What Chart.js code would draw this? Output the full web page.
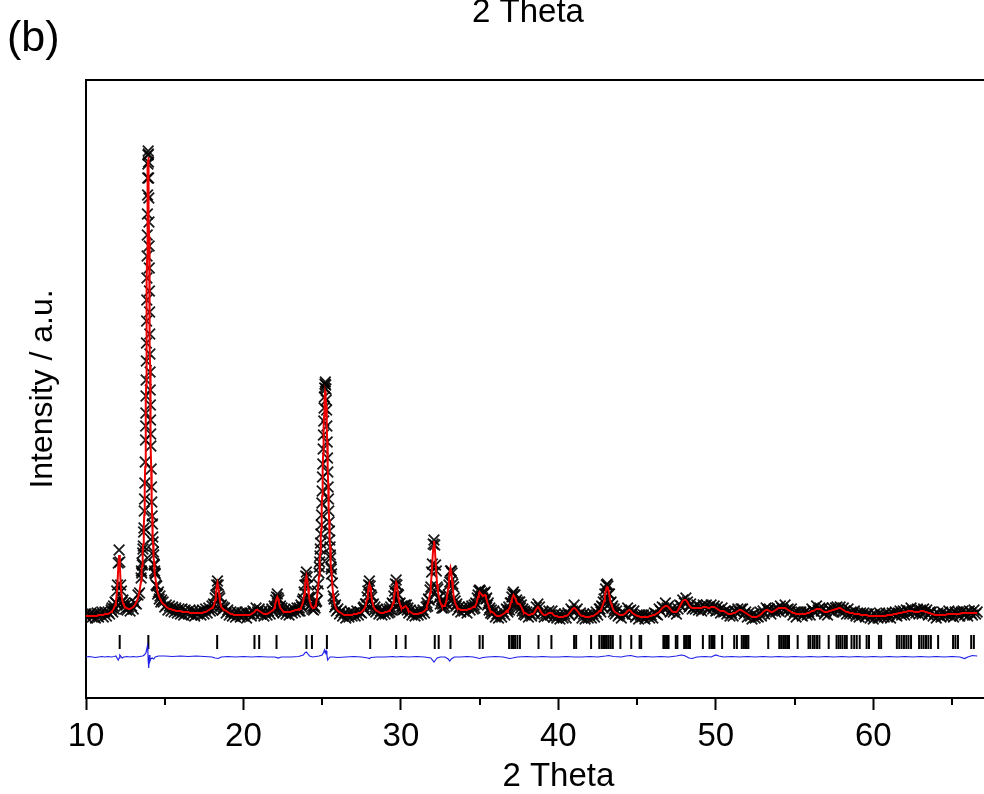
<!DOCTYPE html>
<html><head><meta charset="utf-8">
<script src="https://cdn.jsdelivr.net/npm/chart.js@4/dist/chart.umd.min.js"></script>
<style>html,body{margin:0;padding:0;overflow:hidden;background:#fff}#wrap{width:1040px;height:794px}</style>
</head><body><div id="wrap"><canvas id="c" width="1040" height="794"></canvas></div>
<script>
// 2-theta positions of the observed/calculated profile
const THETA = [
10,10.1,10.2,10.3,10.4,10.5,10.6,10.7,10.8,10.9,11,11.1,11.2,11.3,11.4,11.5,11.6,
11.65,11.7,11.75,11.8,11.85,11.9,11.95,12,12.05,12.1,12.15,12.2,12.25,12.3,12.35,12.4,12.45,12.5,12.55,12.6,
12.7,12.8,12.9,13,13.1,13.2,13.3,13.4,13.5,
13.52,13.54,13.56,13.58,13.6,13.62,13.64,13.66,13.68,13.7,13.72,13.74,13.76,13.78,
13.79,13.8,13.81,13.82,13.83,13.84,13.85,13.86,13.87,13.88,13.89,13.9,13.91,13.92,13.93,13.94,13.95,13.96,13.97,13.98,13.99,14,14.01,14.02,14.03,14.04,14.05,14.06,14.07,14.08,14.09,14.1,14.11,14.12,
14.14,14.16,14.18,14.2,14.22,14.24,14.26,14.28,14.3,14.32,14.34,14.36,14.38,
14.4,14.45,14.5,14.55,14.6,14.65,14.7,14.75,14.8,
14.9,15,15.1,15.2,15.3,15.4,15.5,15.6,15.7,15.8,15.9,16,16.1,16.2,16.3,16.4,16.5,16.6,16.7,16.8,16.9,17,17.1,17.2,17.3,17.4,17.5,17.6,17.7,17.8,17.9,
18,18.05,18.1,18.15,18.2,18.25,18.3,18.35,18.4,18.45,18.5,18.55,18.6,18.65,18.7,
18.8,18.9,19,19.1,19.2,19.3,19.4,19.5,19.6,19.7,19.8,19.9,20,20.1,20.2,20.3,20.4,20.5,20.6,20.7,20.8,20.9,21,21.1,21.2,21.3,21.4,21.5,21.6,21.7,21.8,21.9,
21.95,22,22.05,22.1,22.15,22.2,22.25,22.3,22.35,22.4,22.45,22.5,
22.6,22.7,22.8,22.9,23,23.1,23.2,23.3,23.4,23.5,
23.55,23.6,23.65,23.7,23.75,23.8,23.85,23.9,23.95,24,24.05,24.1,24.15,24.2,24.25,24.3,24.35,24.4,24.45,24.5,24.55,24.6,24.65,24.7,24.75,24.8,
24.82,24.84,24.86,24.88,24.9,24.92,24.94,24.96,24.98,25,25.02,25.04,25.06,25.08,25.1,25.12,25.14,25.16,25.18,25.2,25.22,25.24,25.26,25.28,25.3,25.32,25.34,25.36,25.38,25.4,25.42,25.44,25.46,25.48,25.5,25.52,25.54,25.56,25.58,25.6,
25.65,25.7,25.75,25.8,25.85,25.9,
26,26.1,26.2,26.3,26.4,26.5,26.6,26.7,26.8,26.9,27,27.1,27.2,27.3,27.4,27.5,27.6,
27.65,27.7,27.75,27.8,27.85,27.9,27.95,28,28.05,28.1,28.15,28.2,28.25,28.3,28.35,28.4,
28.5,28.6,28.7,28.8,28.9,29,29.1,29.2,
29.25,29.3,29.35,29.4,29.45,29.5,29.55,29.6,29.65,29.7,29.75,29.8,29.85,29.9,29.95,30,30.05,30.1,30.15,30.2,30.25,30.3,30.35,30.4,30.45,30.5,
30.6,30.7,30.8,30.9,31,31.1,31.2,31.3,31.4,31.5,31.6,
31.65,31.7,31.75,31.8,31.85,31.9,31.95,32,32.05,32.1,32.15,32.2,32.25,32.3,32.35,32.4,32.45,32.5,32.55,32.6,32.65,32.7,32.75,32.8,32.85,32.9,32.95,33,33.05,33.1,33.15,33.2,33.25,33.3,33.35,33.4,33.45,33.5,33.55,33.6,
33.7,33.8,33.9,34,34.1,34.2,34.3,34.4,34.5,34.6,
34.65,34.7,34.75,34.8,34.85,34.9,34.95,35,35.05,35.1,35.15,35.2,35.25,35.3,35.35,35.4,35.45,35.5,35.55,35.6,35.65,35.7,35.75,35.8,
35.9,36,36.1,36.2,36.3,36.4,36.5,36.6,36.7,
36.75,36.8,36.85,36.9,36.95,37,37.05,37.1,37.15,37.2,37.25,37.3,37.35,37.4,37.45,37.5,37.55,37.6,37.65,37.7,37.75,37.8,37.85,37.9,
38,38.1,38.2,38.3,38.4,38.5,38.6,38.7,38.8,38.9,39,39.1,39.2,39.3,39.4,39.5,39.6,39.7,39.8,39.9,40,40.1,40.2,40.3,40.4,40.5,40.6,40.7,40.8,40.9,41,41.1,41.2,41.3,41.4,41.5,41.6,41.7,41.8,41.9,42,42.1,42.2,42.3,42.4,42.5,42.6,
42.65,42.7,42.75,42.8,42.85,42.9,42.95,43,43.05,43.1,43.15,43.2,43.25,43.3,43.35,43.4,43.45,43.5,43.55,43.6,
43.7,43.8,43.9,44,44.1,44.2,44.3,44.4,44.5,44.6,
44.7,44.8,44.9,45,45.1,45.2,45.3,45.4,45.5,45.6,
45.7,45.8,45.9,46,46.1,46.2,46.3,46.4,46.5,46.6,
46.7,46.8,46.9,47,47.1,47.2,47.3,47.4,47.5,47.6,
47.7,47.8,47.9,48,48.1,48.2,48.3,48.4,48.5,48.6,
48.7,48.8,48.9,49,49.1,49.2,49.3,49.4,49.5,49.6,
49.7,49.8,49.9,50,50.1,50.2,50.3,50.4,50.5,50.6,
50.7,50.8,50.9,51,51.1,51.2,51.3,51.4,51.5,51.6,
51.7,51.8,51.9,52,52.1,52.2,52.3,52.4,52.5,52.6,
52.7,52.8,52.9,53,53.1,53.2,53.3,53.4,53.5,53.6,
53.7,53.8,53.9,54,54.1,54.2,54.3,54.4,54.5,54.6,
54.7,54.8,54.9,55,55.1,55.2,55.3,55.4,55.5,55.6,
55.7,55.8,55.9,56,56.1,56.2,56.3,56.4,56.5,56.6,
56.7,56.8,56.9,57,57.1,57.2,57.3,57.4,57.5,57.6,
57.7,57.8,57.9,58,58.1,58.2,58.3,58.4,58.5,58.6,
58.7,58.8,58.9,59,59.1,59.2,59.3,59.4,59.5,59.6,
59.7,59.8,59.9,60,60.1,60.2,60.3,60.4,60.5,60.6,
60.7,60.8,60.9,61,61.1,61.2,61.3,61.4,61.5,61.6,
61.7,61.8,61.9,62,62.1,62.2,62.3,62.4,62.5,62.6,
62.7,62.8,62.9,63,63.1,63.2,63.3,63.4,63.5,63.6,
63.7,63.8,63.9,64,64.1,64.2,64.3,64.4,64.5,64.6,
64.7,64.8,64.9,65,65.1,65.2,65.3,65.4,65.5,65.6,
65.7,65.8,65.9,66,66.1,66.2,66.3,66.4,66.5,66.6
];
// calculated profile (red line), a.u.
const CALC = [
82,82,82,82,82,82,82,82,83,83,83,83,84,84,84,85,86,
87,88,89,91,93,97,103,114,131,143,132,115,104,98,95,93,92,91,90,90,
89,89,90,91,93,96,100,107,117,
124,128,132,136,141,147,154,162,172,183,196,212,231,254,
267,281,297,313,332,351,372,394,416,439,461,482,502,518,530,538,541,538,530,518,502,482,461,439,416,394,372,351,332,313,297,281,267,254,
231,212,196,183,172,162,154,147,141,136,132,128,124,
121,115,110,106,103,101,99,98,96,
94,93,91,90,89,89,88,88,87,87,87,87,86,86,86,86,86,85,85,85,85,85,85,85,85,85,86,86,87,88,89,
90,90,92,94,98,104,111,115,111,104,98,94,91,90,89,
88,87,86,85,84,84,83,83,83,83,83,83,83,83,83,83,83,84,85,86,88,88,87,86,85,84,84,84,85,86,87,88,
90,92,96,99,101,99,96,92,90,89,88,87,
86,86,86,86,86,87,87,88,88,89,
88,89,90,92,94,97,103,110,118,122,118,110,103,98,95,92,91,90,90,90,92,94,98,104,112,122,
128,133,139,145,152,160,169,179,190,202,215,229,243,257,270,282,292,300,305,307,305,300,292,282,270,257,243,229,215,202,190,179,169,160,152,145,139,133,128,123,
112,103,97,93,91,89,
87,86,85,84,83,83,83,83,83,83,84,84,84,85,85,86,88,
89,90,92,95,99,105,111,114,111,105,99,95,92,90,89,88,
87,86,85,85,85,86,86,87,
87,88,89,90,92,95,99,105,111,115,112,106,100,96,93,91,90,90,90,91,91,92,91,90,88,87,
86,85,84,84,84,84,85,85,86,87,89,
93,94,97,100,105,113,123,136,150,157,151,137,124,114,107,102,99,96,94,92,92,92,92,93,95,98,104,110,118,126,130,126,117,109,102,98,95,93,91,90,
89,88,88,88,88,88,89,89,90,91,
91,92,93,95,98,101,104,106,105,104,103,102,102,103,103,101,98,95,93,90,88,87,86,86,
85,83,82,82,82,83,84,85,87,
86,88,89,90,93,96,99,101,103,102,100,98,96,95,94,94,94,92,91,89,87,86,85,85,
84,83,83,84,84,86,89,91,89,86,84,83,83,84,85,85,85,83,82,82,81,81,81,81,82,82,83,85,87,89,90,89,87,85,83,82,82,81,81,81,81,82,82,83,84,85,87,
87,88,90,92,94,97,102,106,110,111,110,106,102,97,94,92,90,88,87,86,
85,84,83,83,83,84,85,87,88,87,
85,84,83,82,82,81,81,81,81,81,
81,82,82,83,83,84,85,86,88,90,
91,92,92,91,89,87,86,86,86,88,
91,94,97,98,98,96,93,91,90,90,
90,90,90,90,90,91,91,91,90,90,
91,91,91,90,89,88,87,87,87,86,
85,84,84,84,85,85,86,87,88,88,
87,86,85,84,83,82,81,81,81,81,
82,83,84,86,87,88,88,87,86,86,
87,88,89,90,90,90,90,90,89,88,
87,86,85,85,84,84,84,84,84,84,
84,85,85,86,87,87,88,89,89,89,
88,87,86,86,86,87,87,88,88,89,
89,90,90,89,88,87,86,86,85,85,
85,84,84,84,84,83,83,83,83,83,
82,82,82,82,82,82,82,82,82,82,
82,82,83,83,83,83,84,84,84,85,
85,85,86,86,86,87,87,87,87,86,
86,86,86,87,87,87,86,86,85,85,
84,84,83,83,83,83,83,83,83,83,
84,84,84,84,84,84,84,84,84,85,
85,85,85,85,85,85,85,85,85,85
];
// observed intensities (black crosses), a.u.
const OBS = [
84,80,83,85,81,84,80,85,81,84,86,81,86,82,86,84,88,
90,86,92,89,96,95,107,113,135,148,136,113,107,96,98,92,95,89,93,88,
91,87,92,89,95,94,103,105,120,
127,125,135,133,145,149,152,166,170,187,199,215,236,258,
272,285,302,318,337,355,377,398,420,442,463,484,503,520,534,543,547,544,536,520,500,476,452,430,407,386,364,344,326,308,293,278,264,252,
229,211,196,182,174,161,156,146,143,134,133,127,125,
124,113,112,104,106,99,102,96,98,
96,91,93,88,92,87,91,86,90,85,89,84,89,83,88,86,84,88,83,87,82,86,84,87,83,88,84,89,85,90,87,
92,88,94,93,100,103,113,117,113,102,100,92,93,88,91,
90,85,88,83,86,82,85,81,86,84,81,85,82,86,80,84,85,82,87,84,90,86,89,84,87,82,86,83,87,84,89,86,
92,90,98,101,104,100,98,90,92,87,90,85,
88,84,87,83,88,85,89,86,90,87,
90,87,93,91,97,99,106,113,122,126,121,113,101,100,93,94,89,92,88,92,90,96,97,107,114,125,
131,136,142,149,155,164,173,183,195,207,221,234,249,263,277,290,301,310,314,316,313,309,298,288,272,256,240,226,211,199,187,176,167,158,151,143,140,131,129,124,
115,102,99,91,93,87,
89,84,87,82,85,80,84,81,86,82,85,82,87,83,86,85,90,
91,88,94,94,101,107,113,117,112,103,101,93,94,88,91,86,
89,84,87,83,87,84,88,85,
89,86,91,88,95,94,102,107,114,118,113,104,103,94,95,89,92,88,92,89,93,90,93,88,90,85,
88,83,86,82,86,83,87,84,88,85,91,
95,92,99,98,108,111,126,134,154,158,153,133,127,111,109,100,101,94,97,90,94,90,95,91,96,94,101,103,113,116,127,127,125,114,111,100,97,92,94,88,
91,86,90,87,90,85,91,88,92,89,
93,90,95,94,100,103,107,108,107,102,105,100,104,105,106,99,100,93,95,88,90,85,88,84,
87,81,84,80,84,81,86,83,89,
88,86,91,88,95,95,101,104,106,103,103,96,98,93,96,92,96,90,93,87,89,84,87,83,
86,81,85,82,86,84,91,94,91,84,86,81,85,82,87,83,87,81,84,80,83,79,83,80,84,80,85,83,89,87,93,87,89,83,85,80,84,79,83,80,83,80,84,81,86,83,89,
89,86,92,91,96,99,104,109,113,114,112,104,104,95,96,90,92,86,89,84,
87,82,84,80,85,84,83,90,87,88,
84,87,81,83,79,83,81,83,79,82,
83,80,83,80,85,84,83,89,87,91,
90,95,90,92,86,89,86,88,84,89,
93,92,98,95,100,96,91,94,89,91,
89,93,88,91,87,93,91,93,88,91,
93,89,92,87,91,88,85,90,86,87,
84,87,82,85,82,87,86,89,86,89,
89,84,86,81,85,82,79,84,80,82,
81,86,82,87,84,90,88,89,84,87,
89,86,90,87,92,90,88,93,88,89,
86,89,83,86,81,86,84,86,82,85,
86,83,86,83,89,87,86,92,88,90,
87,90,84,87,83,89,87,90,86,90,
91,88,91,86,90,87,84,89,84,86,
84,87,82,85,81,85,83,85,81,84,
84,80,83,79,84,82,80,85,81,83,
81,85,81,84,80,85,84,86,82,85,
87,83,87,83,88,87,85,90,86,87,
85,89,84,88,84,89,86,88,83,86,
86,82,84,80,85,83,81,86,82,84,
83,87,82,85,81,86,84,86,82,86,
87,83,86,82,87,85,83,88,84,86
];
// difference curve (obs - calc), a.u.
const DIFF_X = [
10,10.2,10.4,10.6,10.8,11,11.2,11.4,11.6,11.8,
11.9,12,12.05,12.1,12.15,12.2,12.3,12.4,12.6,12.8,
13,13.2,13.4,13.6,13.7,13.8,13.85,13.9,13.93,13.95,
13.97,14,14.03,14.06,14.1,14.2,14.3,14.4,14.6,14.8,
15,15.5,16,16.5,17,17.5,18,18.2,18.4,18.6,
19,19.5,20,20.5,21,21.5,22,22.2,22.4,23,
23.5,23.8,23.9,24,24.1,24.2,24.4,24.6,24.8,25,
25.1,25.15,25.2,25.25,25.3,25.35,25.4,25.5,25.7,26,
26.5,27,27.5,27.9,28,28.1,28.5,29,29.5,29.7,
30,30.5,31,31.5,31.9,32,32.1,32.2,32.3,32.5,
32.8,33,33.1,33.2,33.4,33.8,34.2,34.6,35,35.2,
35.5,36,36.5,36.9,37.1,37.4,38,38.5,39,39.5,
40,40.5,41,41.5,42,42.5,43,43.2,43.5,44,
44.3,44.6,45,45.5,46,46.5,47,47.5,47.8,48,
48.3,48.5,48.8,49.3,49.7,50,50.2,50.5,51,51.5,
52,52.5,53,53.5,54,54.5,55,55.5,56,56.5,
57,57.5,58,58.5,59,59.5,60,60.5,61,61.5,
62,62.5,63,63.5,64,64.5,65,65.5,65.8,66,
66.3,66.6
];
const DIFF = [
0,.5,0,-.5,0,.5,0,.5,0,.5,
1,-2,-3,-1,2,1,-1,0,.5,0,
.5,0,.5,1,2,4,7,11,6,-3,
-11,-8,2,-4,-2,-1,-2,0,1,1,
1,.5,1,.5,1,.5,0,-1,-1.5,0,
.5,0,.5,0,.5,0,0,-1,0,0,
.5,2,4,5,3,1,0,.5,1,2,
5,7,4,6,2,-3,-2,0,0,-.5,
0,.5,0,-1,-1.5,-.5,0,0,.5,0,
.5,0,.5,0,-1,-3,-5,-3,-1,0,
0,-2,-4,-2,0,0,.5,0,-1.5,-.5,
0,.5,0,-1.5,-1,0,.5,0,.5,0,
0,.5,0,0,.5,0,1,1.5,.5,0,
1,1.5,0,.5,0,.5,0,1,2,1.5,
-1,-1.5,0,.5,0,2,1,0,.5,0,
.5,0,.5,0,.5,0,.5,0,.5,0,
.5,0,.5,0,.5,0,.5,0,.5,0,
.5,0,.5,0,.5,0,.5,0,-1.5,0,
1.5,1
];
// Bragg reflection positions (2 theta)
const BRAGG = [12.14,13.96,18.33,20.7,21.0,22.1,24.0,24.35,25.3,28.05,29.7,30.3,32.15,32.4,33.15,35.0,35.2,
36.87,37.02,37.12,37.25,37.4,37.56,38.74,39.56,41.0,41.13,42.08,42.6,42.75,42.85,42.96,43.08,43.2,43.33,43.46,
43.94,44.63,45.16,45.26,46.67,46.77,46.9,47.0,47.46,47.56,47.99,48.11,48.24,48.36,49.18,49.6,49.72,49.82,49.91,
50.4,51.17,51.34,51.65,51.76,51.86,51.97,52.07,53.33,54.03,54.15,54.28,54.4,54.53,54.65,55.2,55.89,56.0,56.16,
56.28,56.43,56.58,57.17,57.67,57.8,57.92,58.05,58.2,58.32,58.62,58.79,58.95,59.14,59.58,59.73,60.36,60.5,
61.5,61.65,61.8,61.95,62.1,62.24,62.4,62.91,63.06,63.2,63.35,63.5,63.66,64.12,65.07,65.22,65.38,66.22,66.39];

const X_MAJOR = [10,20,30,40,50,60];
const X_MINOR = [15,25,35,45,55,65];
const X_TITLE = '2 Theta';
const Y_TITLE = 'Intensity / a.u.';
const PANEL_LABEL = '(b)';
const TOP_CAPTION = '2 Theta';
const DIFF_SHIFT = 41;   // vertical offset of the difference curve
const BRAGG_LEVEL = 56;  // vertical level of the Bragg tick row

const FONT = "'Liberation Sans', Arial, sans-serif";
const n = Math.min(THETA.length, CALC.length, OBS.length);
if (THETA.length !== CALC.length || THETA.length !== OBS.length) console.warn('length mismatch', THETA.length, CALC.length, OBS.length);
const obsPts = [], calcPts = [];
for (let i = 0; i < n; i++) { obsPts.push({x: THETA[i], y: OBS[i]}); calcPts.push({x: THETA[i], y: CALC[i]}); }
const diffPts = DIFF_X.map((x, i) => ({x, y: DIFF[i] + DIFF_SHIFT}));
const braggPts = BRAGG.map(x => ({x, y: BRAGG_LEVEL}));

const frame = {
  id: 'frame',
  afterDraw(chart) {
    const {ctx, chartArea: a, scales: {x}} = chart;
    ctx.save();
    ctx.strokeStyle = '#000'; ctx.lineWidth = 2;
    ctx.beginPath(); ctx.moveTo(a.left - 1, a.top); ctx.lineTo(a.right, a.top); ctx.lineTo(a.right, a.bottom); ctx.stroke();
    ctx.beginPath();
    X_MINOR.forEach(v => { const px = Math.round(x.getPixelForValue(v)); ctx.moveTo(px, a.bottom); ctx.lineTo(px, a.bottom + 7); });
    ctx.stroke();
    ctx.fillStyle = '#000'; ctx.textBaseline = 'alphabetic';
    ctx.font = '43px ' + FONT; ctx.textAlign = 'left'; ctx.fillText(PANEL_LABEL, 7, 51);
    ctx.font = '33px ' + FONT; ctx.textAlign = 'center'; ctx.fillText(TOP_CAPTION, 528, 22);
    ctx.restore();
  }
};

new Chart(document.getElementById('c'), {
  type: 'scatter',
  data: {datasets: [
    {label: 'calc', data: calcPts, showLine: true, borderColor: '#ee0000', borderWidth: 2, pointRadius: 0, tension: 0, order: 0},
    {label: 'diff', data: diffPts, showLine: true, borderColor: '#1f1fe8', borderWidth: 1.2, pointRadius: 0, tension: 0, order: 1},
    {label: 'bragg', data: braggPts, showLine: false, pointStyle: 'line', pointRotation: 90, pointRadius: 7,
      pointBorderColor: '#000', pointBorderWidth: 2, borderColor: '#000', order: 2},
    {label: 'obs', data: obsPts, showLine: false, pointStyle: 'crossRot', pointRadius: 7.5,
      pointBorderColor: 'rgba(0,0,0,0.9)', pointBorderWidth: 1.8, borderColor: 'rgba(0,0,0,0.9)', backgroundColor: 'rgba(0,0,0,0)', order: 3}
  ]},
  options: {
    responsive: false, animation: false, events: [],
    layout: {padding: {top: 80, right: 0, left: 0, bottom: 0}},
    plugins: {legend: {display: false}, tooltip: {enabled: false}},
    scales: {
      x: {
        type: 'linear', position: 'bottom', min: 10, max: 70,
        afterBuildTicks: s => { s.ticks = X_MAJOR.map(v => ({value: v})); },
        afterFit: s => { s.height = 96; },
        grid: {display: true, drawOnChartArea: false, drawTicks: true, tickLength: 12, tickWidth: 2, tickColor: '#000'},
        border: {display: true, color: '#000', width: 2},
        ticks: {color: '#000', font: {family: FONT, size: 33}, padding: 7, maxRotation: 0, autoSkip: false},
        title: {display: true, text: X_TITLE, color: '#000', font: {family: FONT, size: 33, lineHeight: 1}, padding: {top: 0, bottom: 1}}
      },
      y: {
        type: 'linear', min: 0, max: 618,
        afterFit: s => { s.width = 86; },
        grid: {display: true, drawOnChartArea: false, drawTicks: false},
        border: {display: true, color: '#000', width: 2},
        ticks: {display: false},
        title: {display: true, text: Y_TITLE, color: '#000', font: {family: FONT, size: 32}, padding: {top: 24, bottom: 0}}
      }
    }
  },
  plugins: [frame]
});
</script>
</body></html>
